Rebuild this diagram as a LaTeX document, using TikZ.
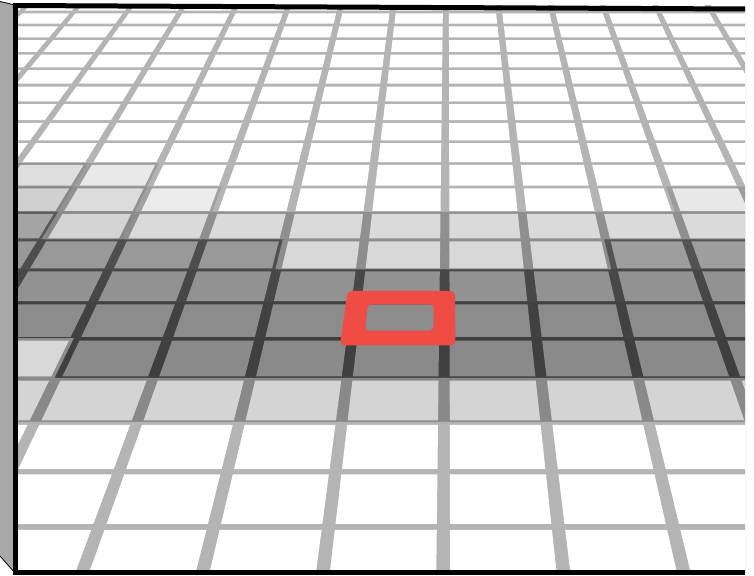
\documentclass[tikz,border=0pt]{standalone}
\definecolor{qred}{RGB}{240,76,70}
\definecolor{qpanel}{gray}{0.66}
\newcommand\qshade[2]{%
 \def\qv{0}%
 \ifnum#2=8 \ifnum#1<-5 \def\qv{33}\else\ifnum#1=-5 \def\qv{22}\fi\fi\fi
 \ifnum#2=9 \ifnum#1<-5 \def\qv{47}\else\ifnum#1=-5 \def\qv{35}\else\ifnum#1=-4 \def\qv{19}\else\ifnum#1>2 \def\qv{23}\fi\fi\fi\fi\fi
 \ifnum#2=10 \ifnum#1<-5 \def\qv{91}\else\ifnum#1=-5 \def\qv{43}\else\def\qv{37}\fi\fi\fi
 \ifnum#2=11 \ifnum#1<-2 \def\qv{102}\else\ifnum#1>1 \def\qv{97}\else\def\qv{39}\fi\fi\fi
 \ifnum#2=12 \def\qv{109}\fi
 \ifnum#2=13 \def\qv{115}\fi
 \ifnum#2=14 \ifnum#1<-4 \def\qv{39}\else\def\qv{117}\fi\fi
 \ifnum#2=15 \def\qv{43}\fi
}
\begin{document}
\begin{tikzpicture}[x=1pt,y=-1pt]
\useasboundingbox (0,0) rectangle (754,575);
\fill[white] (0,0) rectangle (754,575);
\begin{scope}
\clip (15,6) rectangle (745,572);
\foreach \kk in {-2,...,18}{
  \pgfmathsetmacro\qDto{1000/(2.1882-0.06363*(\kk-0.015))}
  \pgfmathsetmacro\qDbo{1000/(2.1882-0.06363*(\kk+1.015))}
  \pgfmathsetmacro\qDt{1000/(2.1882-0.06363*(\kk))}
  \pgfmathsetmacro\qDb{1000/(2.1882-0.06363*(\kk+1))}
  \pgfmathsetmacro\qhT{max(0.05,1.4/(63.63*(\qDt/1000)^2))}
  \pgfmathsetmacro\qhB{max(0.05,1.4/(63.63*(\qDb/1000)^2))}
  \pgfmathsetmacro\qDti{1000/(2.1882-0.06363*(\kk+\qhT))}
  \pgfmathsetmacro\qDbi{1000/(2.1882-0.06363*(\kk+1-\qhB))}
  \pgfmathsetmacro\qyto{\qDto-432}
  \pgfmathsetmacro\qybo{\qDbo-432}
  \pgfmathsetmacro\qyti{\qDti-432}
  \pgfmathsetmacro\qybi{\qDbi-432}
  \foreach \jj in {-10,...,6}{
    \qshade{\jj}{\kk}%
    \pgfmathsetmacro\qcc{(255-\qv)/255}%
    \pgfmathsetmacro\qlc{(180-\qv)/255}%
    \definecolor{qcell}{gray}{\qcc}%
    \definecolor{qline}{gray}{\qlc}%
    \pgfmathsetmacro\qa{\jj-0.055}%
    \pgfmathsetmacro\qb{\jj+1-0.025}%
    \pgfmathsetmacro\qia{\jj+0.0575-0.04}%
    \pgfmathsetmacro\qib{\jj+1-0.0575-0.04}%
    \fill[qline] ({448+(\qa)*0.11976*\qDto},\qyto) -- ({448+(\qb)*0.11976*\qDto},\qyto) -- ({448+(\qb)*0.11976*\qDbo},\qybo) -- ({448+(\qa)*0.11976*\qDbo},\qybo) -- cycle;
    \fill[qcell] ({448+(\qia)*0.11976*\qDti},\qyti) -- ({448+(\qib)*0.11976*\qDti},\qyti) -- ({448+(\qib)*0.11976*\qDbi},\qybi) -- ({448+(\qia)*0.11976*\qDbi},\qybi) -- cycle;
  }
}
% red frame on the plane
\pgfmathsetmacro\qRa{1000/(2.1882-0.06363*12.65)}
\pgfmathsetmacro\qRb{1000/(2.1882-0.06363*14.17)}
\pgfmathsetmacro\qRc{1000/(2.1882-0.06363*13.05)}
\pgfmathsetmacro\qRd{1000/(2.1882-0.06363*13.78)}
\coordinate (ro1) at ({448-1.16*0.11976*\qRa},{\qRa-432});
\coordinate (ro2) at ({448+0.08*0.11976*\qRa},{\qRa-432});
\coordinate (ro3) at ({448+0.08*0.11976*\qRb},{\qRb-432});
\coordinate (ro4) at ({448-1.16*0.11976*\qRb},{\qRb-432});
\coordinate (ri1) at ({448-0.91*0.11976*\qRc},{\qRc-432});
\coordinate (ri2) at ({448-0.16*0.11976*\qRc},{\qRc-432});
\coordinate (ri3) at ({448-0.16*0.11976*\qRd},{\qRd-432});
\coordinate (ri4) at ({448-0.91*0.11976*\qRd},{\qRd-432});
\fill[qred, even odd rule, rounded corners=4pt] (ro1) -- (ro2) -- (ro3) -- (ro4) -- cycle (ri1) -- (ri2) -- (ri3) -- (ri4) -- cycle;
\end{scope}
% side panel and frame
\fill[qpanel] (0,1.5) -- (15,5) -- (15,573) -- (0,556) -- cycle;
\draw[line width=0.8pt] (0,1.5) -- (15,5);
\draw[line width=0.8pt] (0,556) -- (15,573);
\draw[line width=5pt] (13,5.5) -- (745,9);
\draw[line width=5pt] (13,572.5) -- (745,572.5);
\draw[line width=5pt] (15.7,3) -- (15.7,575);
\end{tikzpicture}
\end{document}
